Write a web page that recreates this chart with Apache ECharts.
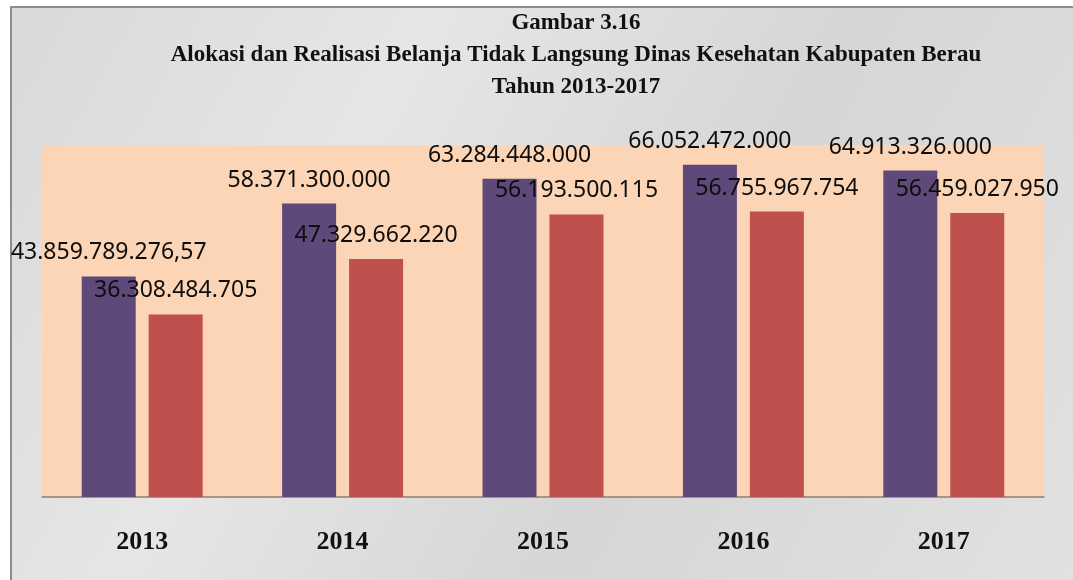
<!DOCTYPE html>
<html>
<head>
<meta charset="utf-8">
<script src="https://cdn.jsdelivr.net/npm/echarts@6/dist/echarts.min.js"></script>
<style>
html,body{margin:0;padding:0;background:#ffffff;}
#chart{width:1073px;height:580px;}
</style>
</head>
<body>
<div id="chart"></div>
<script>
const years = ['2013', '2014', '2015', '2016', '2017'];
const alokasi = [43859789276.57, 58371300000, 63284448000, 66052472000, 64913326000];
const realisasi = [36308484705, 47329662220, 56193500115, 56755967754, 56459027950];
const titleLines = ['Gambar 3.16', 'Alokasi dan Realisasi Belanja Tidak Langsung Dinas Kesehatan Kabupaten Berau', 'Tahun 2013-2017'];

function fmtID(v) {
  const neg = v < 0;
  v = Math.abs(v);
  const isInt = Math.abs(v - Math.round(v)) < 1e-6;
  let s = isInt ? String(Math.round(v)) : v.toFixed(2);
  let parts = s.split('.');
  let ip = parts[0].replace(/\B(?=(\d{3})+(?!\d))/g, '.');
  return (neg ? '-' : '') + ip + (parts[1] ? ',' + parts[1] : '');
}

const chart = echarts.init(document.getElementById('chart'), null, {renderer: 'canvas'});
const labelStyle = {
  show: true,
  position: 'top',
  distance: 12,
  fontFamily: 'Noto Sans',
  fontSize: 23,
  color: '#0d0d0d',
  formatter: p => fmtID(p.value)
};
chart.setOption({
  backgroundColor: '#ffffff',
  animation: false,
  graphic: [{
    type: 'rect',
    z: -10,
    shape: {x: 11, y: 7, width: 1080, height: 600},
    style: {
      fill: new echarts.graphic.LinearGradient(0, 0, 1, 1, [
        {offset: 0, color: '#d9d9d9'},
        {offset: 0.3, color: '#e6e6e6'},
        {offset: 0.6, color: '#d6d6d6'},
        {offset: 1, color: '#e2e2e2'}
      ]),
      stroke: '#8c8c8c',
      lineWidth: 2
    }
  }],
  title: {
    text: titleLines.join('\n'),
    left: 571,
    top: 2,
    textAlign: 'center',
    textStyle: {
      fontFamily: 'Liberation Serif',
      fontWeight: 'bold',
      fontSize: 23,
      lineHeight: 32,
      color: '#111111'
    }
  },
  grid: {left: 42, right: 29, top: 145, bottom: 83, show: true, backgroundColor: '#fbd5b5', borderWidth: 0},
  xAxis: {
    type: 'category',
    data: years,
    axisLine: {lineStyle: {color: '#8c7f70', width: 1.5}},
    axisTick: {show: false},
    axisLabel: {
      margin: 32,
      fontFamily: 'Liberation Serif',
      fontWeight: 'bold',
      fontSize: 26,
      color: '#111111'
    }
  },
  yAxis: {
    type: 'value',
    min: 0,
    max: 70000000000,
    show: false,
    splitLine: {show: false}
  },
  series: [
    {
      name: 'Alokasi',
      type: 'bar',
      data: alokasi,
      barWidth: 54,
      barGap: '24%',
      itemStyle: {color: '#5f497a'},
      label: labelStyle
    },
    {
      name: 'Realisasi',
      type: 'bar',
      data: realisasi,
      barWidth: 54,
      itemStyle: {color: '#c0504d'},
      label: labelStyle
    }
  ]
});
</script>
</body>
</html>
